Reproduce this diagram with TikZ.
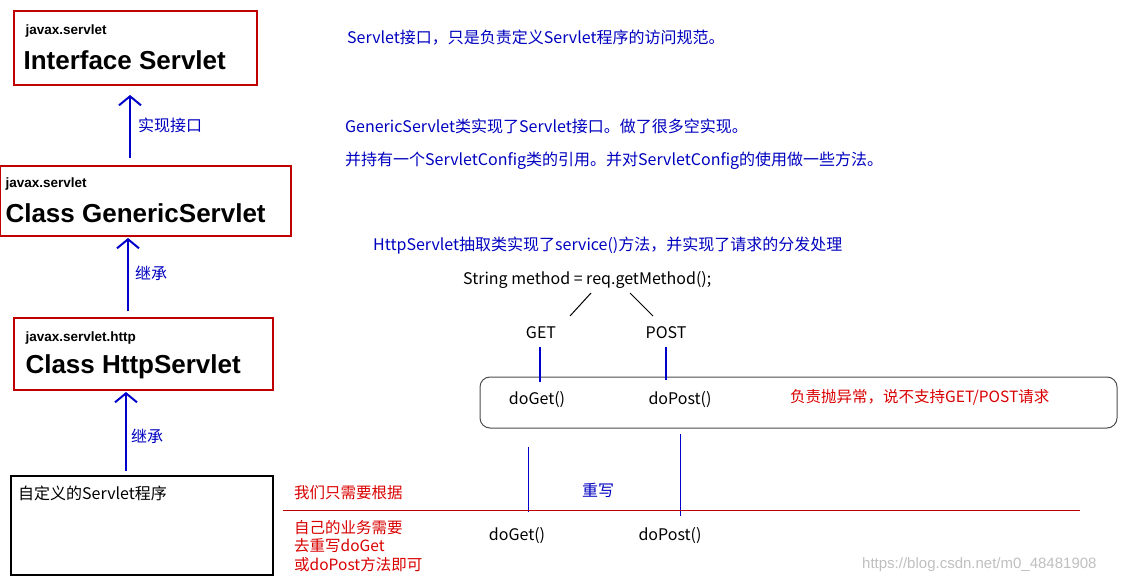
\documentclass[tikz,border=0pt]{standalone}
\usepackage{fontspec}
\usetikzlibrary{arrows.meta}
\setmainfont{Liberation Sans}
\newfontfamily\cjk{Noto Sans CJK SC}
\begin{document}
\begin{tikzpicture}[x=1pt,y=-1pt,
  cls/.style={draw=red!75!black,line width=1.4pt,fill=white,anchor=north west,inner sep=0pt},
  blu/.style={text=blue!75!black,font=\cjk\fontsize{16}{18}\selectfont,anchor=west,inner sep=0pt},
  rd/.style={text=red!85!black,font=\cjk\fontsize{15.5}{18.5}\selectfont,anchor=west,inner sep=0pt},
  blk/.style={font=\cjk\fontsize{16}{18}\selectfont,anchor=center,inner sep=0pt},
  inh/.style={draw=blue!80!black,line width=2pt,-{Straight Barb[length=9pt,width=22pt]}},
  thin/.style={draw=blue!80!black,line width=1pt}]
\useasboundingbox (0,0) rectangle (1121,583);
% class boxes
\draw[cls] (14,11) rectangle (257,85);
\node[anchor=west,font=\bfseries\fontsize{13.5}{15}\selectfont] (p1) at (22,31) {javax.servlet};
\node[anchor=west,font=\bfseries\fontsize{26}{30}\selectfont] (b1) at (20,60) {Interface Servlet};
\draw[cls] (0,166) rectangle (291,236);
\node[anchor=west,font=\bfseries\fontsize{13.5}{15}\selectfont] (p2) at (2,184) {javax.servlet};
\node[anchor=west,font=\bfseries\fontsize{26}{30}\selectfont] (b2) at (2,213) {Class GenericServlet};
\draw[cls] (14,318) rectangle (273,390);
\node[anchor=west,font=\bfseries\fontsize{13.5}{15}\selectfont] (p3) at (22,338) {javax.servlet.http};
\node[anchor=west,font=\bfseries\fontsize{26}{30}\selectfont] (b3) at (22,367) {Class HttpServlet};
\draw[line width=1.4pt] (11,476) rectangle (273,575);
\node[blk,anchor=west] (b4) at (18,493) {自定义的Servlet程序};
% arrows
\coordinate (a1s) at (130,158); \coordinate (a1e) at (130,95);
\coordinate (a2s) at (128,311); \coordinate (a2e) at (128,238);
\coordinate (a3s) at (126,471); \coordinate (a3e) at (126,392);
\draw[inh] (a1s) -- (a1e);
\draw[inh] (a2s) -- (a2e);
\draw[inh] (a3s) -- (a3e);
\node[blu] (l1) at (138,125) {实现接口};
\node[blu] (l2) at (135,273) {继承};
\node[blu] (l3) at (131,436) {继承};
% right texts
\node[blu] (t1) at (347,38) {Servlet接口，只是负责定义Servlet程序的访问规范。};
\node[blu] (t2) at (345,126) {GenericServlet类实现了Servlet接口。做了很多空实现。};
\node[blu] (t3) at (345,161) {并持有一个ServletConfig类的引用。并对ServletConfig的使用做一些方法。};
\node[blu] (t4) at (373,246) {HttpServlet抽取类实现了service()方法，并实现了请求的分发处理};
\node[blk,anchor=west] (m) at (463,280) {String method = req.getMethod();};
\coordinate (s1) at (591,293); \coordinate (e1) at (570,316);
\coordinate (s2) at (630,293); \coordinate (e2) at (653,316);
\draw[line width=1pt] (s1) -- (e1);
\draw[line width=1pt] (s2) -- (e2);
\node[blk] (get) at (541,333) {GET};
\node[blk] (post) at (666,333) {POST};
\draw[rounded corners=10pt,draw=black!70,line width=1pt] (480,377) rectangle (1117,428);
\coordinate (g0) at (540,347); \coordinate (g1) at (540,382);
\coordinate (p0) at (666,347); \coordinate (p1e) at (666,380);
\draw[line width=1.5pt,draw=blue!80!black] (g0) -- (g1);
\draw[line width=1.5pt,draw=blue!80!black] (p0) -- (p1e);
\node[blk] (dg) at (537,400) {doGet()};
\node[blk] (dp) at (680,400) {doPost()};
\node[rd] (r1) at (790,397) {负责抛异常，说不支持GET/POST请求};
% override
\coordinate (u1) at (528,447); \coordinate (v1) at (528,512);
\coordinate (u2) at (680,434); \coordinate (v2) at (680,516);
\draw[thin] (u1) -- (v1);
\draw[thin] (u2) -- (v2);
\coordinate (h1) at (283,510); \coordinate (h2) at (1080,510);
\draw[draw=red!75!black,line width=1pt] (h1) -- (h2);
\node[blu] (cw) at (582,490) {重写};
\node[blk] (dg2) at (517,536) {doGet()};
\node[blk] (dp2) at (670,536) {doPost()};
\node[rd] (r2) at (294,493) {我们只需要根据};
\node[rd,align=left,anchor=north west] (r3) at (294,520) {自己的业务需要\\去重写doGet\\或doPost方法即可};
\node[anchor=west,text=black!25,font=\fontsize{15}{17}\selectfont,inner sep=0pt] (wm) at (862,565) {https://blog.csdn.net/m0\_48481908};
\end{tikzpicture}
\end{document}
